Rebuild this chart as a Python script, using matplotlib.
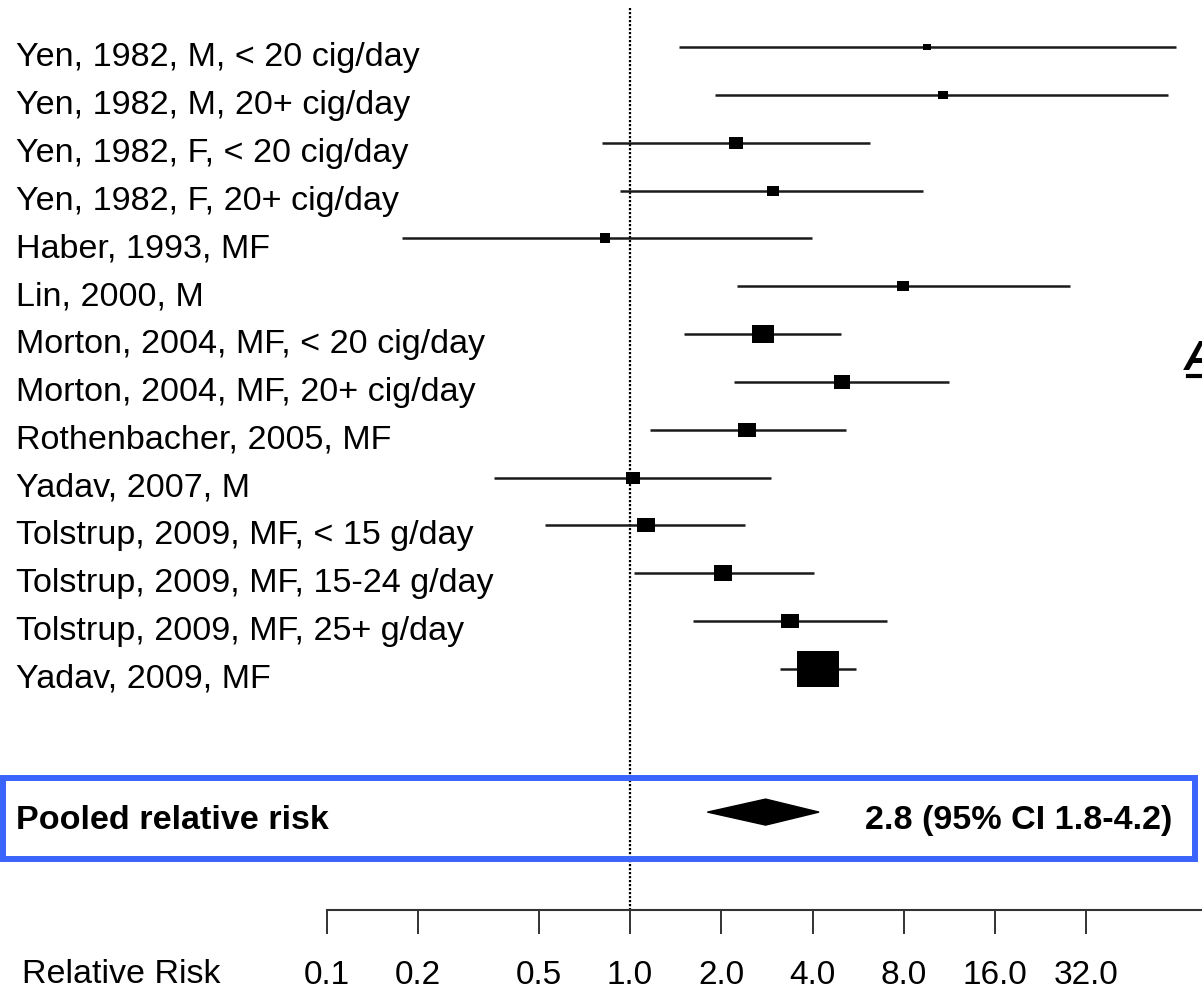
import matplotlib.pyplot as plt
from matplotlib.patches import Polygon, Rectangle
from matplotlib.path import Path
import matplotlib.transforms as mtransforms

plt.rcParams['font.family'] = ['Liberation Sans', 'DejaVu Sans']

studies = ['Yen, 1982, M, < 20 cig/day', 'Yen, 1982, M, 20+ cig/day',
           'Yen, 1982, F, < 20 cig/day', 'Yen, 1982, F, 20+ cig/day',
           'Haber, 1993, MF', 'Lin, 2000, M',
           'Morton, 2004, MF, < 20 cig/day', 'Morton, 2004, MF, 20+ cig/day',
           'Rothenbacher, 2005, MF', 'Yadav, 2007, M',
           'Tolstrup, 2009, MF, < 15 g/day', 'Tolstrup, 2009, MF, 15-24 g/day',
           'Tolstrup, 2009, MF, 25+ g/day', 'Yadav, 2009, MF']
rr = [9.5, 10.8, 2.24, 2.96, 0.83, 7.95, 2.75, 5.0, 2.43, 1.02, 1.13, 2.03, 3.37, 4.17]
ci_low = [1.45, 1.91, 0.81, 0.93, 0.177, 2.25, 1.51, 2.2, 1.16, 0.356, 0.524, 1.03, 1.61, 3.12]
ci_high = [63.0, 59.4, 6.19, 9.25, 3.98, 28.2, 4.96, 11.3, 5.16, 2.92, 2.39, 4.04, 7.04, 5.56]
# study weight, shown as box width in pixels
weight = [8, 9, 14.5, 11.5, 10.5, 11.5, 20.5, 15, 17, 14.5, 17, 18, 17, 41]

pooled = 2.8
pooled_low = 1.8
pooled_high = 4.2

ticks = [0.1, 0.2, 0.5, 1.0, 2.0, 4.0, 8.0, 16.0, 32.0]
tick_labels = ['0.1', '0.2', '0.5', '1.0', '2.0', '4.0', '8.0', '16.0', '32.0']

W, H = 1202, 992
fig = plt.figure(figsize=(W / 100, H / 100), dpi=100)
ax = fig.add_axes([0, 0, 1, 1])

# layout in pixels: 1.0 sits at x=630, one doubling is 91.3 px
x_one, per_doubling = 630.0, 91.3
y_first, row_h = 47.3, 47.8
ax.set_xscale('log', base=2)
ax.set_xlim(2 ** (-x_one / per_doubling), 2 ** ((W - x_one) / per_doubling))
ax.set_ylim((H - y_first) / row_h, -y_first / row_h)
for side in ['top', 'left', 'right']:
    ax.spines[side].set_visible(False)
ax.patch.set_visible(False)

pooled_row = 16.0
axis_row = (910 - y_first) / row_h

# wide box marker
box = Path([(-1, -0.85), (1, -0.85), (1, 0.85), (-1, 0.85), (-1, -0.85)],
           [Path.MOVETO, Path.LINETO, Path.LINETO, Path.LINETO, Path.CLOSEPOLY])

label_tr = mtransforms.blended_transform_factory(ax.transAxes, ax.transData)
offset = 19 / row_h
for i, name in enumerate(studies):
    ax.plot([ci_low[i], ci_high[i]], [i, i], color='#1a1a1a', lw=1.8,
            solid_capstyle='butt', zorder=2)
    ax.plot(rr[i], i, marker=box, markersize=weight[i] * 0.74, color='black',
            markeredgewidth=0, zorder=3)
    ax.text(16 / W, i + offset, name, transform=label_tr, fontsize=24.6,
            va='baseline', ha='left')

# line of no effect
ax.plot([1, 1], [-0.82, axis_row], color='black', lw=1.6, linestyle=(0, (1, 0.8)),
        zorder=1)

# pooled estimate diamond
dh = 13 / row_h
ax.add_patch(Polygon([(pooled_low, pooled_row), (pooled, pooled_row - dh),
                      (pooled_high, pooled_row), (pooled, pooled_row + dh)],
                     closed=True, color='black', zorder=3))
ax.text(16 / W, pooled_row + 17 / row_h, 'Pooled relative risk', transform=label_tr,
        fontsize=24.6, fontweight='bold', va='baseline', ha='left')
ax.text(1172 / W, pooled_row + 17 / row_h,
        f'{pooled:.1f} (95% CI {pooled_low:.1f}-{pooled_high:.1f})',
        transform=label_tr, fontsize=24.6, fontweight='bold', va='baseline', ha='right')

fig.patches.append(Rectangle((3 / W, 1 - 859 / H), 1192 / W, 81 / H,
                             transform=fig.transFigure, fill=False,
                             edgecolor='#3a64fb', lw=4.3, zorder=5))

# bottom axis
ax.spines['bottom'].set_position(('data', axis_row))
ax.spines['bottom'].set_bounds(ticks[0], ax.get_xlim()[1])
ax.spines['bottom'].set_linewidth(1.5)
ax.spines['bottom'].set_color('#333333')
ax.set_xticks(ticks)
ax.set_xticklabels(tick_labels)
ax.xaxis.set_minor_locator(plt.NullLocator())
ax.tick_params(axis='x', direction='out', length=17, width=1.4, color='#333333',
               labelsize=24, pad=19)
ax.set_yticks([])
ax.text(22 / W, (983 - y_first) / row_h, 'Relative Risk', transform=label_tr,
        fontsize=24.5, va='baseline', ha='left')

# panel letter at the right edge
ax.text(1184 / W, (370 - y_first) / row_h, 'A', transform=label_tr, fontsize=30,
        fontweight='bold', fontstyle='italic', va='baseline', ha='left')
ax.plot([1188 / W, 1.0], [(376 - y_first) / row_h] * 2, transform=label_tr,
        color='black', lw=3, clip_on=False)

fig.savefig('out.png', dpi=100)
